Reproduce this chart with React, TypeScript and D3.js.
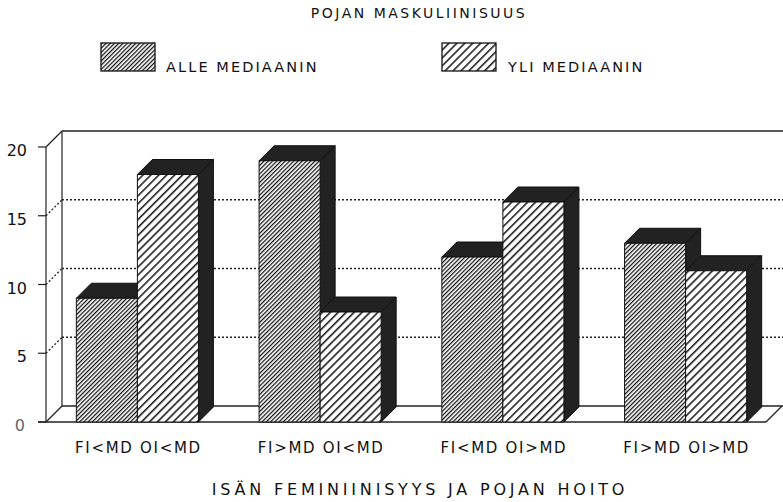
import React from "react";
import * as d3 from "d3";

const CATEGORIES = ["FI<MD OI<MD", "FI>MD OI<MD", "FI<MD OI>MD", "FI>MD OI>MD"];
const SERIES = ["ALLE MEDIAANIN", "YLI MEDIAANIN"];
const ALLE = [9, 19, 12, 13];
const YLI = [18, 8, 16, 11];
const Y_TICKS = [0, 5, 10, 15, 20];
const TITLE = "POJAN MASKULIINISUUS";
const X_TITLE = "ISÄN FEMINIINISYYS JA POJAN HOITO";

const W = 783;
const H = 502;
const FONT = "'DejaVu Sans', sans-serif";
const DARK = "#222";
const WALL = 16; // depth of the back wall
const DEPTH = 15; // depth of the bars

export default function App() {
  const left = 46;
  const frontRight = 766;
  const wallRight = 783;

  const x0 = d3.scaleBand<string>().domain(CATEGORIES).range([46, 777])
    .paddingInner(0.332).paddingOuter(0.166);
  const x1 = d3.scaleBand<string>().domain(SERIES).range([0, x0.bandwidth()]);
  const y = d3.scaleLinear().domain([0, 20]).range([422, 147]);

  const base = y(0);
  const top = y(20);

  const bars = CATEGORIES.flatMap((c, i) => [
    { key: c + "a", x: x0(c)! + x1(SERIES[0])!, v: ALLE[i], fill: "url(#dense)" },
    { key: c + "b", x: x0(c)! + x1(SERIES[1])!, v: YLI[i], fill: "url(#sparse)" },
  ]);
  const bw = x1.bandwidth();

  return (
    <svg width={W} height={H} style={{ position: "absolute", left: 0, top: 0, background: "#fff" }}
      fontFamily={FONT}>
      <defs>
        <pattern id="dense" width="3" height="3" patternUnits="userSpaceOnUse" patternTransform="rotate(45)">
          <rect width="3" height="3" fill="#fff" />
          <line x1="0.6" y1="0" x2="0.6" y2="3" stroke="#111" strokeWidth="1.3" />
        </pattern>
        <pattern id="sparse" width="5.6" height="5.6" patternUnits="userSpaceOnUse" patternTransform="rotate(45)">
          <rect width="5.6" height="5.6" fill="#fff" />
          <line x1="0.8" y1="0" x2="0.8" y2="5.6" stroke="#111" strokeWidth="1.5" />
        </pattern>
      </defs>

      {/* title */}
      <text x={419} y={18} textAnchor="middle" fontSize={14} letterSpacing={2.5} fill="#111">{TITLE}</text>

      {/* legend */}
      <rect x={101} y={43} width={54} height={28} fill="url(#dense)" stroke="#111" strokeWidth={1.3} />
      <text x={166} y={72} fontSize={14.5} letterSpacing={2.1} fill="#111">{SERIES[0]}</text>
      <rect x={442} y={43} width={54} height={28} fill="url(#sparse)" stroke="#111" strokeWidth={1.3} />
      <text x={508} y={72} fontSize={14.5} letterSpacing={2.1} fill="#111">{SERIES[1]}</text>

      {/* back wall */}
      <g stroke="#222" fill="none">
        <line x1={left + WALL} y1={top - WALL} x2={wallRight} y2={top - WALL} strokeWidth={1.3} />
        <line x1={left + WALL} y1={base - WALL} x2={wallRight} y2={base - WALL} strokeWidth={1.3} />
        <line x1={left + WALL} y1={top - WALL} x2={left + WALL} y2={base - WALL} strokeWidth={1.2} />
        {Y_TICKS.filter(t => t > 0 && t < 20).map(t => (
          <g key={t} strokeDasharray="2 2" strokeWidth={1.3}>
            <line x1={left + WALL} y1={y(t) - WALL} x2={wallRight} y2={y(t) - WALL} />
            <line x1={left} y1={y(t)} x2={left + WALL} y2={y(t) - WALL} />
          </g>
        ))}
        {/* side wall */}
        <line x1={left} y1={top} x2={left} y2={base} strokeWidth={1.2} />
        <line x1={left} y1={top} x2={left + WALL} y2={top - WALL} strokeWidth={1.2} />
        <line x1={left} y1={base} x2={left + WALL} y2={base - WALL} strokeWidth={1.2} />
        {/* floor front edge */}
        <line x1={left - 8} y1={base} x2={frontRight} y2={base} strokeWidth={1.5} />
        <line x1={frontRight} y1={base} x2={frontRight + WALL} y2={base - WALL} strokeWidth={1.2} />
        {Y_TICKS.map(t => (
          <line key={t} x1={left - 8} y1={y(t)} x2={left} y2={y(t)} strokeWidth={1.2} />
        ))}
      </g>

      {/* y tick labels */}
      {Y_TICKS.map(t => (
        <text key={t} x={t === 0 ? 25 : 27} y={y(t) + 9} textAnchor="end" fontSize={16}
          fill={t === 0 ? "#666" : "#111"}>{t}</text>
      ))}

      {/* bars */}
      {bars.map(b => {
        const yt = y(b.v);
        const xr = b.x + bw;
        return (
          <g key={b.key} stroke="#111" strokeWidth={1} strokeLinejoin="round">
            <path d={`M${b.x},${yt}L${b.x + DEPTH},${yt - DEPTH}L${xr + DEPTH},${yt - DEPTH}L${xr},${yt}Z`} fill={DARK} />
            <path d={`M${xr},${yt}L${xr + DEPTH},${yt - DEPTH}L${xr + DEPTH},${base - DEPTH}L${xr},${base}Z`} fill={DARK} />
            <rect x={b.x} y={yt} width={bw} height={base - yt} fill={b.fill} />
          </g>
        );
      })}

      {/* category labels */}
      {CATEGORIES.map(c => (
        <text key={c} x={x0(c)! + x0.bandwidth() / 2 + 1} y={453} textAnchor="middle" fontSize={15}
          letterSpacing={1.7} fill="#111">{c}</text>
      ))}

      <text x={420} y={495} textAnchor="middle" fontSize={16} letterSpacing={3.8} fill="#111">{X_TITLE}</text>
    </svg>
  );
}
